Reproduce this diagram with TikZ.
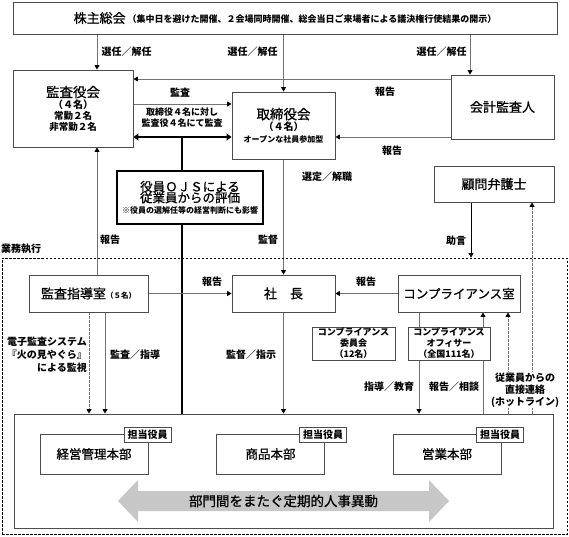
\documentclass[tikz,border=0pt]{standalone}
\usepackage{fontspec}
\setmainfont{Noto Sans CJK JP}
\newfontfamily\medfont{Noto Sans CJK JP}[FakeBold=0.8]
\usetikzlibrary{arrows.meta,calc}
\pgfdeclarelayer{bg}
\pgfsetlayers{bg,main}
\newcommand\fsz[2]{\fontsize{#1}{#2}\selectfont}
\definecolor{boxc}{gray}{0.3}
\definecolor{linec}{gray}{0.45}
\definecolor{arrowgray}{gray}{0.78}
\begin{document}
\begin{tikzpicture}[x=1pt,y=-1pt,
  box/.style={draw=boxc,line width=0.9pt,fill=white,inner sep=0pt,align=center},
  conn/.style={draw=linec,line width=0.8pt},
  arr/.style={conn,-{Triangle[length=4.5pt,width=5pt,color=black]}},
  dconn/.style={conn,dash pattern=on 2.5pt off 1.5pt},
  darr/.style={dconn,-{Triangle[length=4.5pt,width=5pt,color=black]}},
  lbl/.style={inner sep=0pt,font=\bfseries\fsz{10}{12}},
  tag/.style={draw=boxc,line width=0.8pt,fill=white,inner sep=0pt,minimum width=47pt,minimum height=15pt,font=\bfseries\fsz{10}{12}},
  dept/.style={box,minimum width=108pt,minimum height=40pt,font=\medfont\fsz{12.5}{14}},
]
\useasboundingbox (0,0) rectangle (569,536);

% ---------- nodes ----------
\node[box,minimum width=544pt,minimum height=32pt] (top) at (285,18)
  {{\medfont\fsz{13}{15}株主総会}\hspace{2pt}{\bfseries\fsz{9}{11}（集中日を避けた開催、２会場同時開催、総会当日ご来場者による議決権行使結果の開示）}};

\node[box,minimum width=120pt,minimum height=77pt] (kansa) at (73,108.5)
  {{\medfont\fsz{13.5}{16}監査役会}\\[-1pt]{\bfseries\fsz{10}{12}（４名）}\\[-1pt]{\bfseries\fsz{9.5}{11.5}常勤２名}\\[-1pt]{\bfseries\fsz{9.5}{11.5}非常勤２名}};

\node[box,minimum width=103pt,minimum height=67pt] (tori) at (283.5,125.5)
  {{\medfont\fsz{13.5}{16}取締役会}\\[-1pt]{\bfseries\fsz{10}{12}（４名）}\\[0pt]{\bfseries\fsz{8}{10}オープンな社員参加型}};

\node[box,minimum width=103pt,minimum height=64pt,font=\medfont\fsz{13}{15}] (kaikei) at (502.5,107) {会計監査人};

\node[box,draw=black,line width=2.6pt,minimum width=146pt,minimum height=53pt] (ojs) at (190,197.5)
  {{\medfont\fsz{12.5}{14}役員ＯＪＳによる}\\[-1pt]{\medfont\fsz{12.5}{14}従業員からの評価}\\[-1pt]{\bfseries\fsz{8}{10}※役員の選解任等の経営判断にも影響}};

\node[box,minimum width=120pt,minimum height=36pt,font=\medfont\fsz{13}{15}] (komon) at (494,184) {顧問弁護士};

\node[draw=black,line width=0.8pt,dash pattern=on 2.5pt off 1.5pt,minimum width=565pt,minimum height=276pt,inner sep=0pt] (region) at (284.5,396) {};
\node[lbl,anchor=west] (gyomu) at (1,249) {業務執行};

\node[box,minimum width=119pt,minimum height=37pt] (shidou) at (88.5,293.5)
  {{\medfont\fsz{13}{15}監査指導室}{\bfseries\fsz{7.5}{9}（５名）}};
\node[box,minimum width=103pt,minimum height=37pt,font=\medfont\fsz{13}{15}] (shacho) at (283.5,293.5) {社　長};
\node[box,minimum width=122pt,minimum height=37pt,font=\medfont\fsz{12.5}{15}] (comp) at (459,293.5) {コンプライアンス室};

\node[box,minimum width=83pt,minimum height=33pt,font=\bfseries\fsz{9}{11}] (iinkai) at (353.5,343.5) {コンプライアンス\\委員会\\（12名）};
\node[box,minimum width=82pt,minimum height=33pt,font=\bfseries\fsz{9}{11}] (officer) at (449,343.5) {コンプライアンス\\オフィサー\\（全国111名）};

\node[box,minimum width=539pt,minimum height=114pt] (bot) at (283.5,471) {};

\node[dept] (d1) at (94,454) {経営管理本部};
\node[dept] (d2) at (270.5,454) {商品本部};
\node[dept] (d3) at (447,454) {営業本部};
\node[tag] (t1) at (147.5,434.5) {担当役員};
\node[tag] (t2) at (323,434.5) {担当役員};
\node[tag] (t3) at (500,434.5) {担当役員};

\fill[arrowgray] (118,501) -- (138,480) -- (138,491) -- (429,491) -- (429,480) -- (449,501)
  -- (429,522) -- (429,511) -- (138,511) -- (138,522) -- cycle;
\node[inner sep=0pt,font=\medfont\fsz{13.5}{15}] (idou) at (283.5,501) {部門間をまたぐ定期的人事異動};

\node[fill=white,inner sep=1pt,align=center,font=\bfseries\fsz{10}{12}] (hot) at (525,390) {従業員からの\\直接連絡\\(ホットライン)};

% ---------- labels ----------
\node[lbl] (l1) at (126.5,52) {選任／解任};
\node[lbl] (l2) at (252.5,52) {選任／解任};
\node[lbl] (l3) at (441.5,52) {選任／解任};
\node[lbl] (l4) at (385,92) {報告};
\node[lbl] (l5) at (180,93) {監査};
\node[inner sep=0pt,align=center,font=\bfseries\fsz{9}{11}] (l6) at (182,118) {取締役４名に対し\\監査役４名にて監査};
\node[lbl] (l7) at (392,151) {報告};
\node[lbl] (l8) at (327,177) {選定／解職};
\node[lbl] (l9) at (110,240) {報告};
\node[lbl] (l10) at (268,240) {監督};
\node[lbl] (l11) at (456,241) {助言};
\node[lbl] (l12) at (212,282) {報告};
\node[lbl] (l13) at (366,282) {報告};
\node[inner sep=0pt,align=right,anchor=east,font=\bfseries\fsz{10}{13}] (l14) at (87,355) {電子監査システム\\『火の見やぐら』\\による監視};
\node[lbl] (l15) at (135,355) {監査／指導};
\node[lbl] (l16) at (251,355) {監督／指示};
\node[lbl] (l17) at (389,387) {指導／教育};
\node[lbl] (l18) at (454,387) {報告／相談};

% ---------- connector x/y positions ----------
\coordinate (xa) at (97,0);
\coordinate (xc) at (470,0);
\coordinate (y79) at (0,79);
\coordinate (y104) at (0,104);
\coordinate (y137) at (0,137);
\coordinate (tk) at (182,137);
\coordinate (xk) at (471,0);
\coordinate (xe) at (89,0);
\coordinate (xs) at (105,0);
\coordinate (xo) at (419,0);
\coordinate (xr) at (483,0);
\coordinate (xh) at (508,0);
\coordinate (xl) at (532,0);

\begin{pgfonlayer}{bg}
\draw[arr] (xa |- top.south) -- (xa |- kansa.north);
\draw[arr] (top.south -| tori.north) -- (tori.north);
\draw[arr] (xc |- top.south) -- (xc |- kaikei.north);
\draw[arr] (kaikei.west |- y79) -- (kansa.east |- y79);
\draw[arr] (kansa.east |- y104) -- (tori.west |- y104);
\draw[arr] (kaikei.west |- y137) -- (tori.east |- y137);
\draw[line width=2.6pt,{Triangle[length=5pt,width=7pt]}-{Triangle[length=5pt,width=7pt]}] (kansa.east |- y137) -- (tori.west |- y137);
\draw[line width=2.6pt] (tk) -- (tk |- bot.north);
\draw[arr] (xa |- shidou.north) -- (xa |- kansa.south);
\draw[arr] (tori.south) -- (shacho.north);
\draw[arr,draw=black] (xk |- komon.south) -- (xk |- region.north);
\draw[arr] (shidou.east) -- (shacho.west);
\draw[arr] (comp.west) -- (shacho.east);
\draw[darr] (xe |- shidou.south) -- (xe |- bot.north);
\draw[arr] (xs |- shidou.south) -- (xs |- bot.north);
\draw[arr] (shacho.south) -- (shacho.south |- bot.north);
\draw[arr] (xo |- comp.south) -- (xo |- bot.north);
\draw[arr] (xr |- bot.north) -- (xr |- comp.south);
\draw[darr] (xh |- bot.north) -- (xh |- comp.south);
\draw[darr] (xl |- bot.north) -- (xl |- komon.south);
\end{pgfonlayer}
\end{tikzpicture}
\end{document}
